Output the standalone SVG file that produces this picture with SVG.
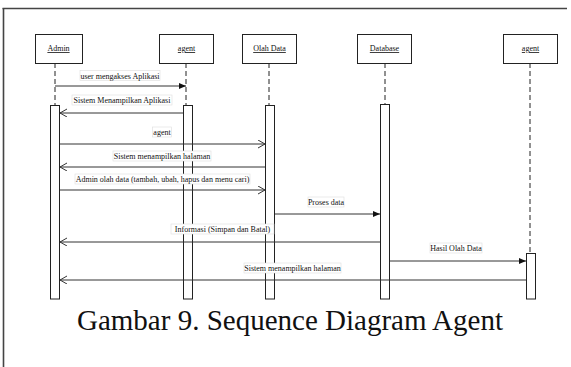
<svg xmlns="http://www.w3.org/2000/svg" width="571" height="367" viewBox="0 0 571 367">
<style>
.head rect{fill:#fff;stroke:#222;stroke-width:1}
.head text{font-family:"Liberation Serif",serif;font-size:8px;text-anchor:middle;text-decoration:underline;fill:#111}
.life{stroke:#222;stroke-width:1;stroke-dasharray:5 3;fill:none}
.act{fill:#fff;stroke:#222;stroke-width:1}
.msg{stroke:#333;stroke-width:1;fill:none}
.lbl rect{fill:#fff;stroke:#ddd;stroke-width:0.6}
.lbl text{font-family:"Liberation Serif",serif;font-size:8px;text-anchor:middle;fill:#111}
.cap{font-family:"Liberation Serif",serif;font-size:29px;text-anchor:middle;fill:#111}
</style>
<defs>
<marker id="filled" markerWidth="8" markerHeight="8" refX="7" refY="3" orient="auto" markerUnits="userSpaceOnUse"><path d="M0,0 L7,3 L0,6 Z" fill="#111"/></marker>
<marker id="open" markerWidth="10" markerHeight="10" refX="7" refY="4" orient="auto" markerUnits="userSpaceOnUse"><path d="M0,0 L7,4 L0,8" fill="none" stroke="#333" stroke-width="1"/></marker>
</defs>
<rect width="571" height="367" fill="#fff"/>
<g id="frame" stroke="#444" stroke-width="1.6" fill="none">
<line x1="2.5" y1="8.5" x2="567" y2="8.5"/>
<line x1="3.5" y1="8" x2="3.5" y2="367"/>
</g>
<g id="lifelines">
<line class="life" x1="55" y1="63" x2="55" y2="105"/>
<line class="life" x1="186" y1="63" x2="186" y2="105"/>
<line class="life" x1="269" y1="63" x2="269" y2="105"/>
<line class="life" x1="385" y1="63" x2="385" y2="104"/>
<line class="life" x1="530" y1="63" x2="530" y2="253"/>
</g>
<g id="node-admin" class="head"><rect x="35.5" y="34.5" width="47" height="29"/><text x="58.5" y="51">Admin</text></g>
<g id="node-agent" class="head"><rect x="159.5" y="34.5" width="54" height="29"/><text x="186.5" y="51">agent</text></g>
<g id="node-olahdata" class="head"><rect x="242.5" y="34.5" width="54" height="29"/><text x="269.5" y="51">Olah Data</text></g>
<g id="node-database" class="head"><rect x="357.5" y="34.5" width="54" height="29"/><text x="384.5" y="51">Database</text></g>
<g id="node-agent2" class="head"><rect x="503.5" y="34.5" width="54" height="29"/><text x="530.5" y="51">agent</text></g>
<g id="activations">
<rect class="act" x="50.5" y="105.5" width="9" height="193.5"/>
<rect class="act" x="183.5" y="105.5" width="9" height="193.5"/>
<rect class="act" x="265.5" y="105.5" width="9" height="193.5"/>
<rect class="act" x="380.5" y="104.5" width="9" height="194.5"/>
<rect class="act" x="526.5" y="253.5" width="9" height="45.5"/>
</g>
<g id="connectors">
<line class="msg" x1="55" y1="86" x2="186" y2="86" marker-end="url(#filled)"/>
<line class="msg" x1="183" y1="113" x2="60" y2="113" marker-end="url(#open)"/>
<line class="msg" x1="60" y1="144" x2="265" y2="144" marker-end="url(#open)"/>
<line class="msg" x1="265" y1="167" x2="60" y2="167" marker-end="url(#open)"/>
<line class="msg" x1="60" y1="190" x2="265" y2="190" marker-end="url(#open)"/>
<line class="msg" x1="275" y1="214" x2="380" y2="214" marker-end="url(#filled)"/>
<line class="msg" x1="380" y1="242" x2="60" y2="242" marker-end="url(#open)"/>
<line class="msg" x1="390" y1="261" x2="526" y2="261" marker-end="url(#filled)"/>
<line class="msg" x1="526" y1="280" x2="60" y2="280" marker-end="url(#open)"/>
</g>
<g id="labels" class="lbl">
<rect x="80" y="70.5" width="80" height="10"/><text x="120" y="78.5">user mengakses Aplikasi</text>
<rect x="72" y="95" width="100" height="10"/><text x="122" y="103">Sistem Menampilkan Aplikasi</text>
<rect x="152.5" y="127" width="19" height="10"/><text x="162" y="135">agent</text>
<rect x="113" y="151" width="98" height="10"/><text x="162" y="159">Sistem menampilkan halaman</text>
<rect x="75" y="174" width="175" height="10"/><text x="162.5" y="182">Admin olah data (tambah, ubah, hapus dan menu cari)</text>
<rect x="308" y="197" width="36" height="10"/><text x="326" y="205">Proses data</text>
<rect x="171" y="224" width="103" height="10"/><text x="222.5" y="232">Informasi (Simpan dan Batal)</text>
<rect x="430" y="243" width="52" height="10"/><text x="456" y="251">Hasil Olah Data</text>
<rect x="244" y="263" width="97" height="10"/><text x="292.5" y="271">Sistem menampilkan halaman</text>
</g>
<text class="cap" x="290" y="330">Gambar 9. Sequence Diagram Agent</text>
</svg>
